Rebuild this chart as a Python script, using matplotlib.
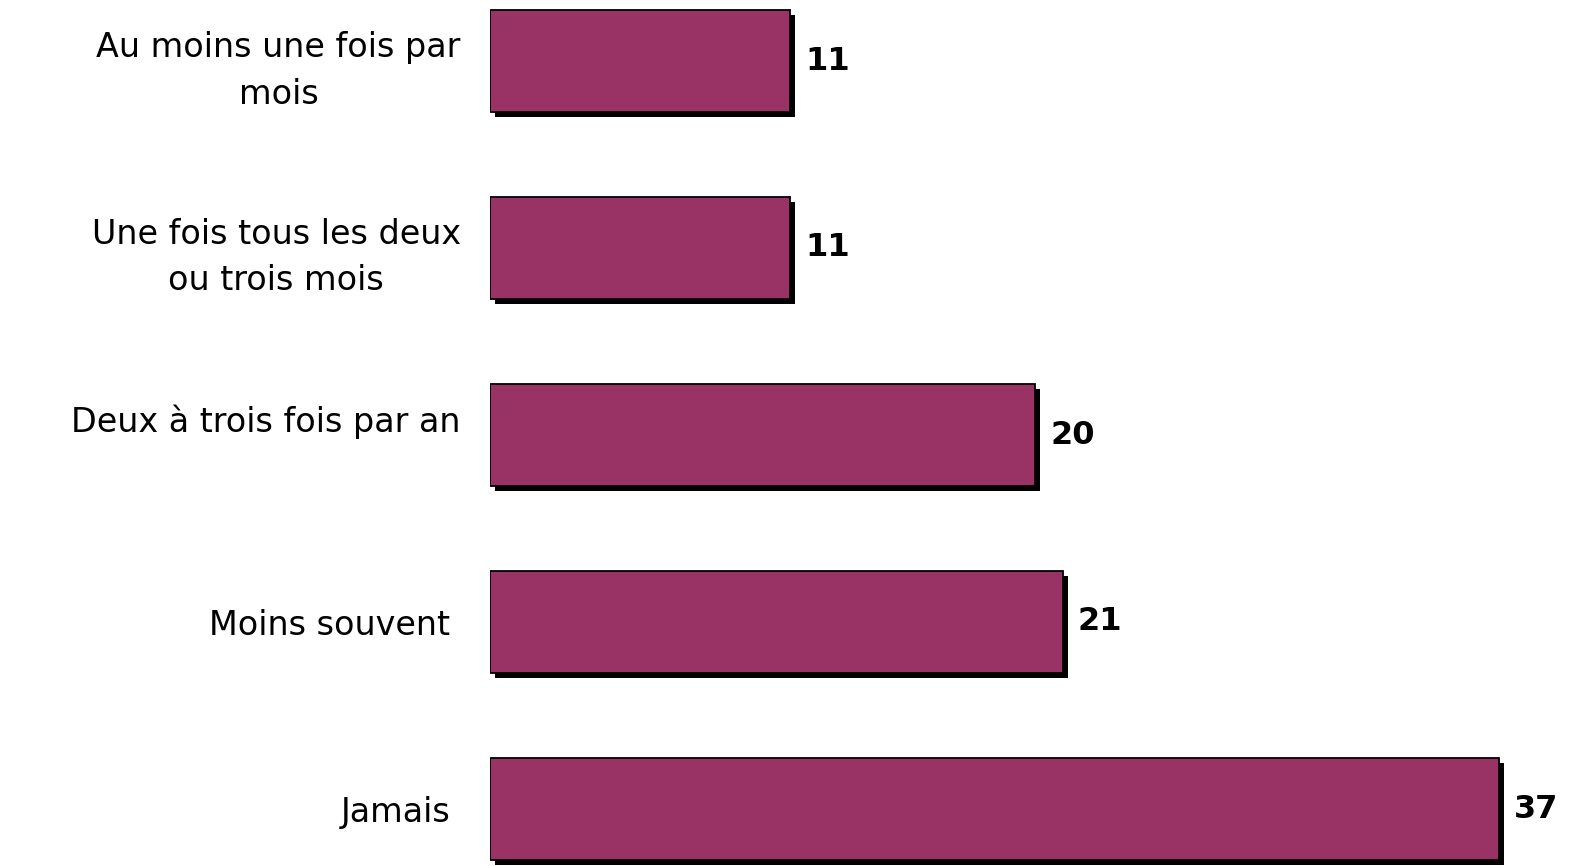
import matplotlib.pyplot as plt
import matplotlib.patheffects as pe

categories = [
    'Au moins une fois par\nmois',
    'Une fois tous les deux\nou trois mois',
    'Deux à trois fois par an\n ',
    'Moins souvent ',
    'Jamais ',
]
values = [11, 11, 20, 21, 37]

bar_color = '#993366'

fig = plt.figure(figsize=(15.76, 8.66), dpi=100)
ax = fig.add_axes([490 / 1576, 0, 1 - 490 / 1576, 1])

pos = list(range(len(values)))
bars = ax.barh(pos, values, height=0.55, color=bar_color,
               edgecolor='black', linewidth=1.3)
for b in bars:
    b.set_path_effects([
        pe.SimplePatchShadow(offset=(3.6, -3.6), shadow_rgbFace='black',
                             alpha=1.0),
        pe.Normal(),
    ])

for p, v in zip(pos, values):
    ax.annotate(str(v), (v, p), xytext=(11, 0), textcoords='offset points',
                ha='left', va='center', fontsize=23, fontweight='bold')

ax.set_xlim(0, (1576 - 490) / (1499 - 490) * 37)
ax.set_ylim((866 - 61) / 187, -61 / 187)

ax.set_yticks(pos)
ax.set_yticklabels(categories, fontsize=24, multialignment='center',
                   linespacing=1.5)
ax.tick_params(axis='y', length=0, pad=21)
ax.set_xticks([])
for s in ax.spines.values():
    s.set_visible(False)

fig.savefig('out.png', dpi=100)
